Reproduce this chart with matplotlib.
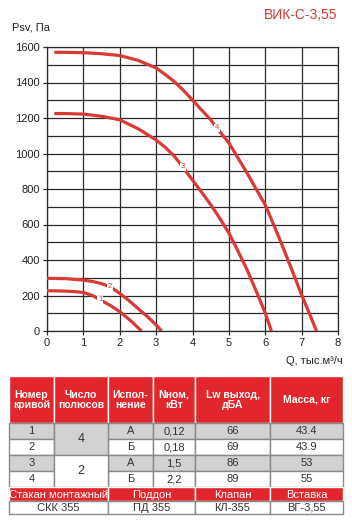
import matplotlib.pyplot as plt
from matplotlib.patches import Rectangle

# ---------------------------------------------------------
# Data
# ---------------------------------------------------------
title = "ВИК-С-3,55"

q1 = [0.0, 0.5, 0.75, 1.0, 1.25, 1.46, 1.75, 2.0, 2.3, 2.6]
p1 = [227, 225, 222, 217, 200, 175, 143, 109, 58, 0]

q2 = [0.0, 0.5, 1.0, 1.25, 1.5, 1.73, 2.0, 2.25, 2.55, 2.8, 3.0, 3.15]
p2 = [297, 295, 287, 279, 267, 250, 212, 172, 118, 74, 34, 0]

q3 = [0.2, 0.5, 1.0, 1.5, 2.0, 2.5, 3.0, 3.25, 3.5, 3.73, 4.0, 4.25,
      4.5, 4.75, 5.0, 5.25, 5.5, 5.75, 6.0, 6.17]
p3 = [1225, 1225, 1222, 1210, 1190, 1140, 1076, 1035, 985, 924, 850, 782,
      712, 635, 552, 450, 345, 225, 101, 0]

q4 = [0.2, 0.5, 1.0, 1.5, 2.0, 2.5, 3.0, 3.25, 3.5, 3.75, 4.0, 4.25,
      4.5, 4.67, 5.0, 5.25, 5.5, 5.75, 6.0, 6.25, 6.5, 6.75, 7.0, 7.2, 7.41]
p4 = [1570, 1570, 1568, 1562, 1552, 1525, 1482, 1445, 1405, 1356, 1301, 1245,
      1190, 1144, 1060, 975, 890, 800, 710, 590, 465, 335, 203, 105, 0]

curves = [(q1, p1, 5), (q2, p2, 5), (q3, p3, 9), (q4, p4, 13)]  # index of label point

header = ["Номер\nкривой", "Число\nполюсов", "Испол-\nнение",
          "Nном,\nкВт", "Lw выход,\nдБА", "Масса, кг"]
curve_no = ["1", "2", "3", "4"]
poles = ["4", "2"]
version = ["А", "Б", "А", "Б"]
power = ["0,12", "0,18", "1,5", "2,2"]
lw_out = ["66", "69", "86", "89"]
mass = ["43.4", "43.9", "53", "55"]
acc_names = ["Стакан монтажный", "Поддон", "Клапан", "Вставка"]
acc_codes = ["СКК 355", "ПД 355", "КЛ-355", "ВГ-3,55"]

RED = "#d93a34"
HEAD_RED = "#e2272c"
GRAY = "#d2d2d2"
TXT = "#333333"
FONT = ["Liberation Sans Narrow", "Liberation Sans", "DejaVu Sans"]
plt.rcParams["font.family"] = FONT

fig = plt.figure(figsize=(3.52, 5.28), dpi=100)

# ---------------------------------------------------------
# Chart
# ---------------------------------------------------------
ax = fig.add_axes([47 / 352, 1 - 331 / 528, 291 / 352, 284 / 528])

for q, p, li in curves:
    ax.plot(q, p, color=RED, lw=2.3, solid_capstyle="butt",
            solid_joinstyle="round", zorder=3)

for n, (q, p, li) in enumerate(curves):
    ax.text(q[li], p[li], str(n + 1), color=RED, fontsize=5.5,
            ha="center", va="center", zorder=4,
            bbox=dict(boxstyle="square,pad=0.1", fc="white", ec="none"))

ax.set_xlim(0, 8)
ax.set_ylim(0, 1600)
ax.set_xticks(range(0, 9))
ax.set_yticks(range(0, 1601, 200))
ax.set_yticks(range(0, 1601, 100), minor=True)
ax.grid(True, which="both", color="#2a2a2a", lw=0.9)
ax.tick_params(which="major", direction="out", length=3, width=0.9,
               color="#2a2a2a", labelsize=8, labelcolor="#222222", pad=2)
ax.tick_params(which="minor", length=0)
for s in ax.spines.values():
    s.set_color("#2a2a2a")
    s.set_linewidth(0.9)

fig.text(12 / 352, 1 - 28 / 528, "Psv, Па", fontsize=8, color="#222222",
         va="center", ha="left")
fig.text(343 / 352, 1 - 361 / 528, "Q, тыс.м³/ч", fontsize=8,
         color="#222222", va="center", ha="right")
fig.text(337 / 352, 1 - 15 / 528, title, fontsize=10, color=RED,
         va="center", ha="right")

# ---------------------------------------------------------
# Table (pixel coordinates)
# ---------------------------------------------------------
tx = fig.add_axes([0, 0, 1, 1])
tx.set_xlim(0, 352)
tx.set_ylim(528, 0)
tx.axis("off")

cols = [9, 54, 108, 153, 195, 270, 343]
rows = [376, 423, 439, 455, 471, 487, 501, 514]


def cell(x0, x1, y0, y1, fc, ec, text="", color=TXT, size=8, bold=False):
    tx.add_patch(Rectangle((x0, y0), x1 - x0, y1 - y0, fc=fc, ec=ec,
                           lw=1.0))
    if text:
        tx.text((x0 + x1) / 2, (y0 + y1) / 2 + 0.5, text, color=color,
                fontsize=size, ha="center", va="center",
                fontweight="bold" if bold else "normal", linespacing=1.1)


# header
for i, h in enumerate(header):
    cell(cols[i], cols[i + 1], rows[0], rows[1], HEAD_RED, "white",
         h, color="white", size=7.5, bold=True)

# data rows
data_cols = [curve_no, None, version, power, lw_out, mass]
for r in range(4):
    bg = GRAY if r % 2 == 0 else "white"
    for c, vals in enumerate(data_cols):
        if vals is None:
            continue
        cell(cols[c], cols[c + 1], rows[r + 1], rows[r + 2], bg, "#8a8a8a",
             vals[r])

# merged poles cells
cell(cols[1], cols[2], rows[1], rows[3], GRAY, "#8a8a8a", poles[0], size=9)
cell(cols[1], cols[2], rows[3], rows[5], "white", "#8a8a8a", poles[1], size=9)

# accessories
acc_cols = [cols[0], cols[2], cols[4], cols[5], cols[6]]
for i in range(4):
    cell(acc_cols[i], acc_cols[i + 1], rows[5], rows[6], HEAD_RED, "white",
         acc_names[i], color="white", size=8)
    cell(acc_cols[i], acc_cols[i + 1], rows[6], rows[7], "white", "#8a8a8a",
         acc_codes[i], size=8)

fig.savefig("out.png", dpi=100)
